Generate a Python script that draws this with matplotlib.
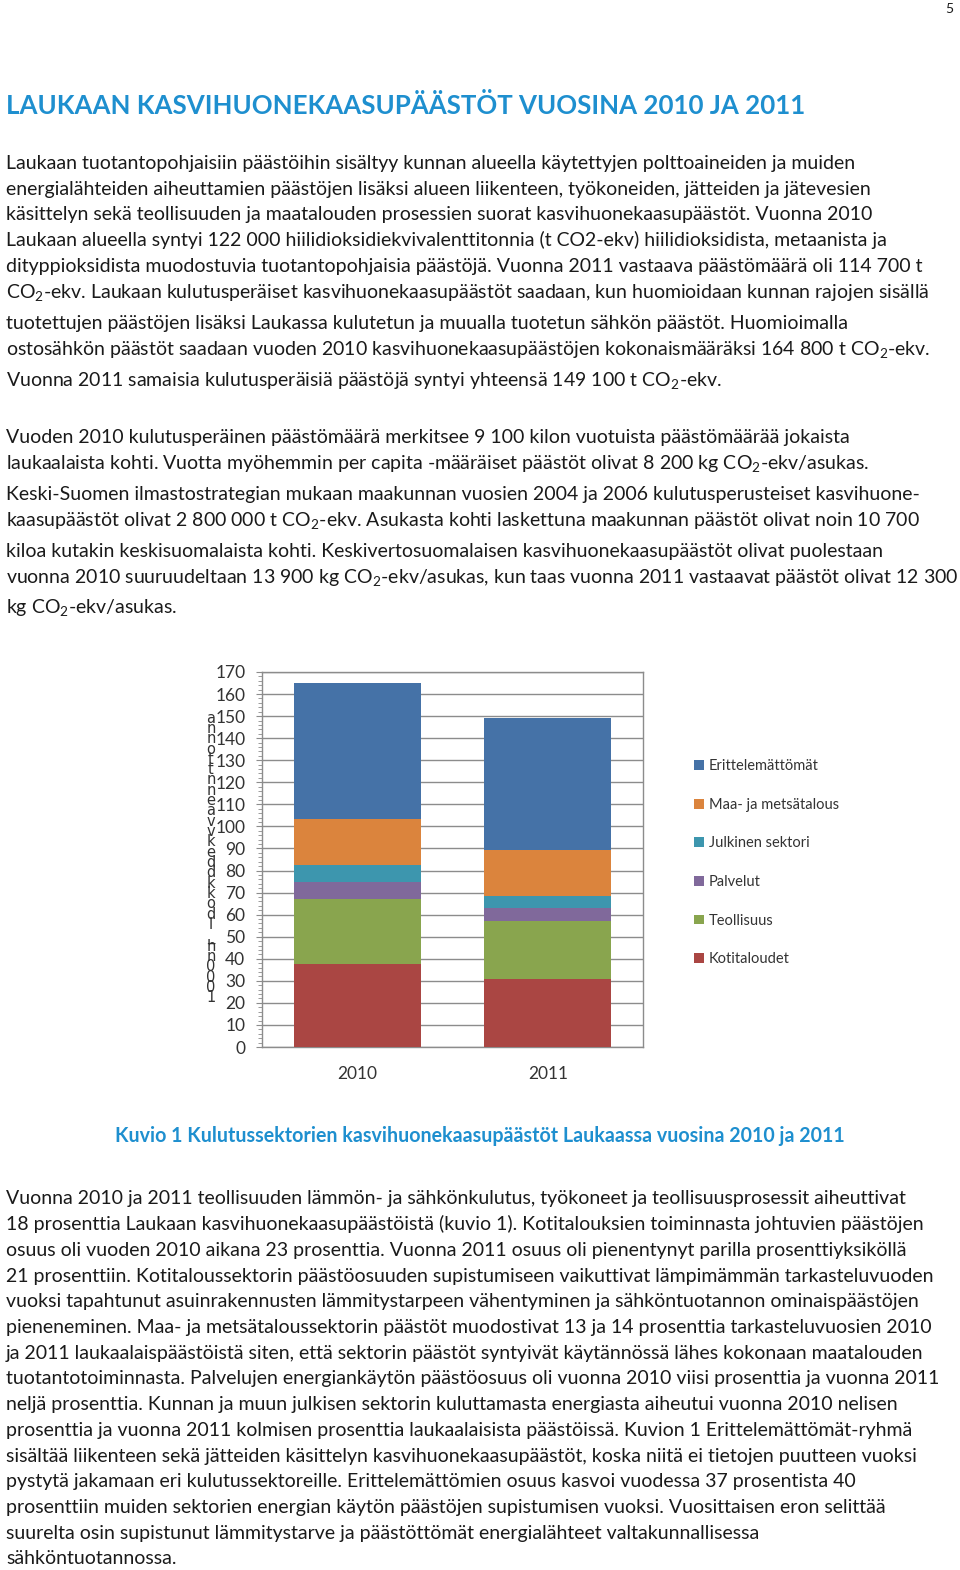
import numpy as np
import matplotlib
matplotlib.use('Agg')
import matplotlib.pyplot as plt
from matplotlib.patches import Patch

plt.rcParams['font.family'] = ['Lato', 'DejaVu Sans']
plt.rcParams['mathtext.fontset'] = 'custom'
plt.rcParams['mathtext.rm'] = 'Lato'
plt.rcParams['mathtext.it'] = 'Lato:italic'
plt.rcParams['mathtext.bf'] = 'Lato:bold'
plt.rcParams['mathtext.default'] = 'regular'

# ---- data ----
years = ['2010', '2011']
sectors = ['Kotitaloudet', 'Teollisuus', 'Palvelut', 'Julkinen sektori',
           'Maa- ja metsätalous', 'Erittelemättömät']
kotitaloudet = [37.7, 30.9]
teollisuus = [29.3, 26.0]
palvelut = [7.7, 6.3]
julkinen = [7.8, 5.3]
maa_metsa = [20.8, 20.8]
erittelemattomat = [61.7, 59.9]
sector_values = [kotitaloudet, teollisuus, palvelut, julkinen, maa_metsa, erittelemattomat]
sector_colors = ['#AA4643', '#89A54E', '#80699B', '#3D96AE', '#DB843D', '#4572A7']
yticks = list(range(0, 171, 10))
ylabel_chars = list('annottnneavvkeddkkodl_hn0001')

title = 'LAUKAAN KASVIHUONEKAASUPÄÄSTÖT VUOSINA 2010 JA 2011'
caption = 'Kuvio 1 Kulutussektorien kasvihuonekaasupäästöt Laukaassa vuosina 2010 ja 2011'

para1 = [
    'Laukaan tuotantopohjaisiin päästöihin sisältyy kunnan alueella käytettyjen polttoaineiden ja muiden',
    'energialähteiden aiheuttamien päästöjen lisäksi alueen liikenteen, työkoneiden, jätteiden ja jätevesien',
    'käsittelyn sekä teollisuuden ja maatalouden prosessien suorat kasvihuonekaasupäästöt. Vuonna 2010',
    'Laukaan alueella syntyi 122 000 hiilidioksidiekvivalenttitonnia (t CO2-ekv) hiilidioksidista, metaanista ja',
    'dityppioksidista muodostuvia tuotantopohjaisia päästöjä. Vuonna 2011 vastaava päästömäärä oli 114 700 t',
    'CO$_2$-ekv. Laukaan kulutusperäiset kasvihuonekaasupäästöt saadaan, kun huomioidaan kunnan rajojen sisällä',
    'tuotettujen päästöjen lisäksi Laukassa kulutetun ja muualla tuotetun sähkön päästöt. Huomioimalla',
    'ostosähkön päästöt saadaan vuoden 2010 kasvihuonekaasupäästöjen kokonaismääräksi 164 800 t CO$_2$-ekv.',
    'Vuonna 2011 samaisia kulutusperäisiä päästöjä syntyi yhteensä 149 100 t CO$_2$-ekv.',
]
para1_y = [163, 189, 214, 240, 266, 292, 323, 349, 380]

para2 = [
    'Vuoden 2010 kulutusperäinen päästömäärä merkitsee 9 100 kilon vuotuista päästömäärää jokaista',
    'laukaalaista kohti. Vuotta myöhemmin per capita -määräiset päästöt olivat 8 200 kg CO$_2$-ekv/asukas.',
    'Keski-Suomen ilmastostrategian mukaan maakunnan vuosien 2004 ja 2006 kulutusperusteiset kasvihuone-',
    'kaasupäästöt olivat 2 800 000 t CO$_2$-ekv. Asukasta kohti laskettuna maakunnan päästöt olivat noin 10 700',
    'kiloa kutakin keskisuomalaista kohti. Keskivertosuomalaisen kasvihuonekaasupäästöt olivat puolestaan',
    'vuonna 2010 suuruudeltaan 13 900 kg CO$_2$-ekv/asukas, kun taas vuonna 2011 vastaavat päästöt olivat 12 300',
    'kg CO$_2$-ekv/asukas.',
]
para2_y = [437, 463, 494, 520, 551, 577, 607]

para3 = [
    'Vuonna 2010 ja 2011 teollisuuden lämmön- ja sähkönkulutus, työkoneet ja teollisuusprosessit aiheuttivat',
    '18 prosenttia Laukaan kasvihuonekaasupäästöistä (kuvio 1). Kotitalouksien toiminnasta johtuvien päästöjen',
    'osuus oli vuoden 2010 aikana 23 prosenttia. Vuonna 2011 osuus oli pienentynyt parilla prosenttiyksiköllä',
    '21 prosenttiin. Kotitaloussektorin päästöosuuden supistumiseen vaikuttivat lämpimämmän tarkasteluvuoden',
    'vuoksi tapahtunut asuinrakennusten lämmitystarpeen vähentyminen ja sähköntuotannon ominaispäästöjen',
    'pieneneminen. Maa- ja metsätaloussektorin päästöt muodostivat 13 ja 14 prosenttia tarkasteluvuosien 2010',
    'ja 2011 laukaalaispäästöistä siten, että sektorin päästöt syntyivät käytännössä lähes kokonaan maatalouden',
    'tuotantotoiminnasta. Palvelujen energiankäytön päästöosuus oli vuonna 2010 viisi prosenttia ja vuonna 2011',
    'neljä prosenttia. Kunnan ja muun julkisen sektorin kuluttamasta energiasta aiheutui vuonna 2010 nelisen',
    'prosenttia ja vuonna 2011 kolmisen prosenttia laukaalaisista päästöissä. Kuvion 1 Erittelemättömät-ryhmä',
    'sisältää liikenteen sekä jätteiden käsittelyn kasvihuonekaasupäästöt, koska niitä ei tietojen puutteen vuoksi',
    'pystytä jakamaan eri kulutussektoreille. Erittelemättömien osuus kasvoi vuodessa 37 prosentista 40',
    'prosenttiin muiden sektorien energian käytön päästöjen supistumisen vuoksi. Vuosittaisen eron selittää',
    'suurelta osin supistunut lämmitystarve ja päästöttömät energialähteet valtakunnallisessa',
    'sähköntuotannossa.',
]
para3_y = [1198, 1224, 1250, 1276, 1301, 1327, 1353, 1378, 1404, 1430, 1456, 1481, 1507, 1533, 1558]

W, H = 960, 1570
TEXT_COLOR = '#1a1a1a'
BLUE = '#1E8FCF'
BODY_SIZE = 14.0

fig = plt.figure(figsize=(W / 100, H / 100), dpi=100)


def fx(x):
    return x / W


def fy(y):
    return 1 - y / H


# page number + heading
fig.text(fx(953), fy(13), '5', fontsize=10, color=TEXT_COLOR, ha='right', va='baseline')
fig.text(fx(6), fy(114), title, fontsize=18.6, fontweight='bold', color=BLUE, va='baseline')

for lines, ys in [(para1, para1_y), (para2, para2_y), (para3, para3_y)]:
    for line, y in zip(lines, ys):
        fig.text(fx(6), fy(y + 6), line, fontsize=BODY_SIZE, color=TEXT_COLOR, va='baseline')

fig.text(fx(480), fy(1142), caption, fontsize=14.1, fontweight='bold', color=BLUE,
         ha='center', va='baseline')

# ---- chart ----
ax = fig.add_axes([fx(262), fy(1047), (643 - 262) / W, (1047 - 672) / H])
x = np.arange(len(years))
bottom = np.zeros(len(years))
for name, vals, col in zip(sectors, sector_values, sector_colors):
    ax.bar(x, vals, width=0.667, bottom=bottom, color=col, label=name, zorder=3)
    bottom += np.array(vals)

ax.set_xlim(-0.5, 1.5)
ax.set_ylim(0, 170)
ax.set_yticks(yticks)
ax.set_yticks(np.arange(0, 171, 2), minor=True)
ax.set_xticks(x)
ax.set_xticklabels(years)
grid_col = '#8c8c8c'
ax.yaxis.grid(True, color=grid_col, linewidth=1.0, zorder=0)
ax.set_axisbelow(True)
for s in ax.spines.values():
    s.set_color(grid_col)
    s.set_linewidth(1.0)
ax.tick_params(axis='y', which='major', length=4, color=grid_col, labelsize=12.5,
               labelcolor='#333333', pad=8)
ax.tick_params(axis='y', which='minor', length=3, color=grid_col)
ax.tick_params(axis='x', length=0, labelsize=12.5, labelcolor='#333333', pad=14)

# garbled stacked y label (one text, characters stacked)
fig.text(fx(211), fy(858), '\n'.join(ylabel_chars), fontsize=10.5, color='#333333',
         ha='center', va='center', linespacing=0.61, family=['DejaVu Sans'])

handles = [Patch(facecolor=c, edgecolor='none') for c in sector_colors][::-1]
fig.legend(handles, sectors[::-1], loc='upper left',
           bbox_to_anchor=(fx(681), fy(746)), frameon=False, fontsize=10.5,
           handlelength=0.65, handleheight=0.65, handletextpad=0.35,
           labelspacing=1.69, labelcolor='#333333')

fig.savefig('out.png', dpi=100)
